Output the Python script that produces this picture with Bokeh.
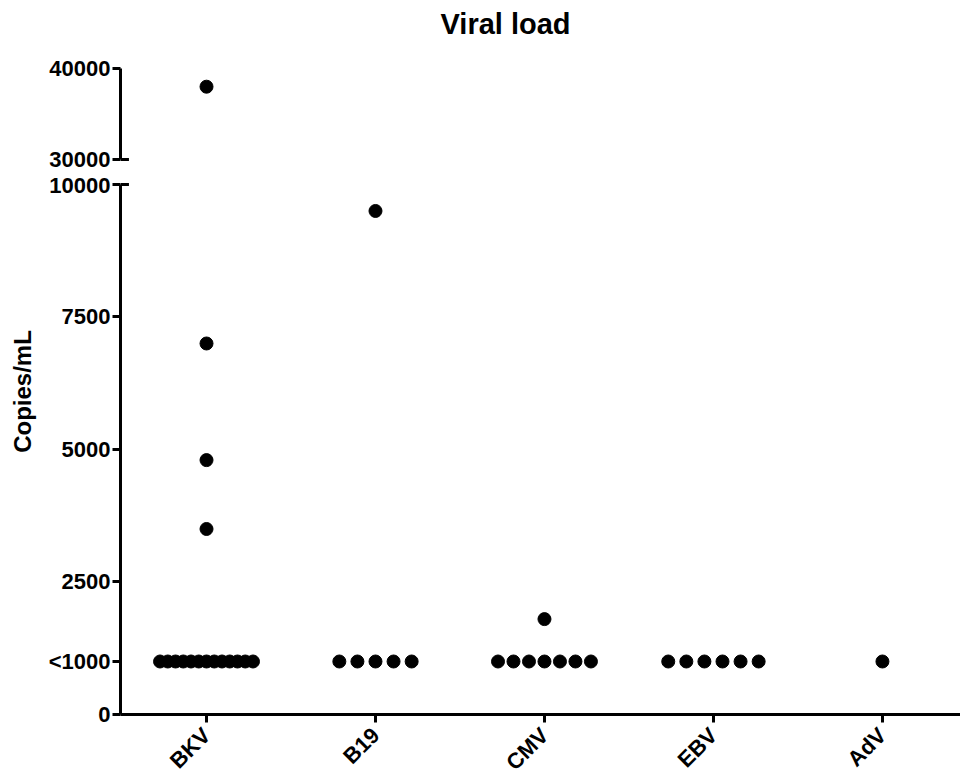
import math
from bokeh.plotting import figure
from bokeh.layouts import column, row
from bokeh.models import ColumnDataSource, FixedTicker, Label, Range1d, Title
from bokeh.embed import file_html
from bokeh.resources import INLINE

# ---- data ----
categories = ["BKV", "B19", "CMV", "EBV", "AdV"]
bkv = [1000, 1000, 1000, 1000, 1000, 1000, 1000, 1000, 1000, 1000, 1000, 1000, 1000,
       3500, 4800, 7000, 38000]
b19 = [1000, 1000, 1000, 1000, 1000, 9500]
cmv = [1000, 1000, 1000, 1000, 1000, 1000, 1000, 1800]
ebv = [1000, 1000, 1000, 1000, 1000, 1000]
adv = [1000]
series = [bkv, b19, cmv, ebv, adv]

low_ticks = [0, 1000, 2500, 5000, 7500, 10000]
low_labels = {1000: "<1000"}
high_ticks = [30000, 40000]
title_text = "Viral load"
y_label = "Copies/mL"

FONT = "Liberation Sans"
STEP = 0.107      # horizontal spacing between equal values (data units)
MAXSPAN = 0.55    # maximum spread width of a group

# scatter-dot-plot spreading of equal values
xs_low, ys_low, xs_high, ys_high = [], [], [], []
for i, vals in enumerate(series):
    center = i + 1
    uniq = []
    for v in vals:
        if v not in uniq:
            uniq.append(v)
    for u in uniq:
        n = vals.count(u)
        step = STEP if n < 2 else min(STEP, MAXSPAN / (n - 1))
        for k in range(n):
            x = center + (k - (n - 1) / 2) * step
            if u >= 30000:
                xs_high.append(x); ys_high.append(u)
            else:
                xs_low.append(x); ys_low.append(u)

src_low = ColumnDataSource(dict(x=xs_low, y=ys_low))
src_high = ColumnDataSource(dict(x=xs_high, y=ys_high))

X0, X1 = 0.491, 5.462
x_range = Range1d(X0, X1)


def style_y(ax, ticks, bounds, overrides=None):
    ax.ticker = FixedTicker(ticks=ticks)
    ax.bounds = bounds
    ax.minor_tick_line_color = None
    ax.axis_line_width = 3
    ax.axis_line_color = "black"
    ax.major_tick_line_width = 3
    ax.major_tick_line_color = "black"
    ax.major_tick_out = 8
    ax.major_tick_in = 0
    ax.major_label_text_font = FONT
    ax.major_label_text_font_style = "bold"
    ax.major_label_text_font_size = "22px"
    ax.major_label_text_color = "black"
    ax.major_label_standoff = 2
    if overrides:
        ax.major_label_overrides = overrides


common = dict(output_backend="svg", toolbar_location=None, frame_width=840,
              min_border_left=82, min_border_right=0, x_range=x_range,
              background_fill_color="white", border_fill_color="white")

# ---- top segment (30000-40000) ----
p1 = figure(frame_height=123, y_range=Range1d(29341, 42857),
            min_border_top=42, min_border_bottom=7, **common)
p1.outline_line_color = None
p1.grid.visible = False
p1.xaxis.visible = False
style_y(p1.yaxis[0], high_ticks, (30000, 40000))
p1.scatter("x", "y", source=src_high, size=13, color="black")
p1.segment(x0=[X0], x1=[X0 + 0.05], y0=[30000], y1=[30000], line_width=3, color="black")
t = Title(text=title_text, align="left", offset=320, standoff=6,
          text_font=FONT, text_font_style="bold", text_font_size="29px", text_color="black")
p1.add_layout(t, "above")

# ---- bottom segment (0-10000) ----
p2 = figure(frame_height=542, y_range=Range1d(0, 10226),
            min_border_top=0, min_border_bottom=0, **common)
p2.outline_line_color = None
p2.grid.visible = False
style_y(p2.yaxis[0], low_ticks, (0, 10000), low_labels)
xa = p2.xaxis[0]
xa.ticker = FixedTicker(ticks=[1, 2, 3, 4, 5])
xa.major_label_overrides = {i + 1: c for i, c in enumerate(categories)}
xa.minor_tick_line_color = None
xa.axis_line_width = 3
xa.major_tick_line_width = 3
xa.major_tick_out = 8
xa.major_tick_in = 0
xa.major_label_orientation = math.pi / 4
xa.major_label_text_font = FONT
xa.major_label_text_font_style = "bold"
xa.major_label_text_font_size = "22px"
xa.major_label_text_color = "black"
xa.major_label_standoff = 9
p2.scatter("x", "y", source=src_low, size=13, color="black")
p2.segment(x0=[X0], x1=[X0 + 0.05], y0=[10000], y1=[10000], line_width=3, color="black")

# ---- y-axis title strip (centred on the whole broken axis) ----
H = 770
pl = figure(width=38, height=H, x_range=Range1d(0, 38), y_range=Range1d(0, H),
            x_axis_type=None, y_axis_type=None, output_backend="svg", toolbar_location=None,
            min_border=0, outline_line_color=None)
pl.grid.visible = False
pl.add_layout(Label(x=22, y=H - 391, text=y_label, angle=math.pi / 2,
                    text_align="center", text_baseline="middle", text_font=FONT,
                    text_font_style="bold", text_font_size="24px", text_color="black"))

layout = row(pl, column(p1, p2, spacing=0), spacing=0)
open("out.html", "w").write(file_html(layout, INLINE))
